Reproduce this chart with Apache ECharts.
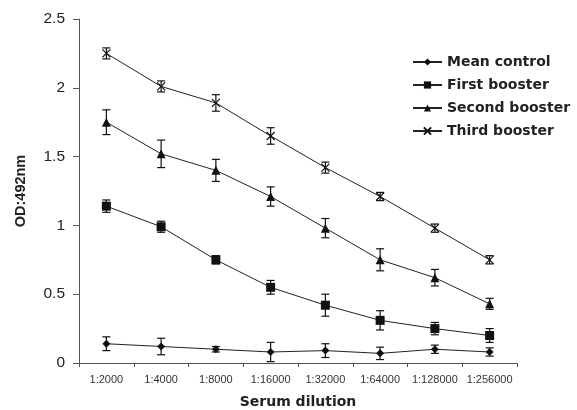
<!DOCTYPE html>
<html><head><meta charset="utf-8">
<script src="https://cdn.jsdelivr.net/npm/echarts@6/dist/echarts.min.js"></script>
<style>html,body{margin:0;padding:0;background:#fff}#c{width:577px;height:410px}</style>
</head><body><div id="c"></div>
<script>
const categories = ['1:2000','1:4000','1:8000','1:16000','1:32000','1:64000','1:128000','1:256000'];
const seriesNames = ['Mean control','First booster','Second booster','Third booster'];
const meanControl = [0.14,0.12,0.10,0.08,0.09,0.07,0.10,0.08];
const meanControlErr = [0.05,0.06,0.02,0.07,0.05,0.045,0.03,0.03];
const firstBooster = [1.14,0.99,0.75,0.55,0.42,0.31,0.25,0.20];
const firstBoosterErr = [0.045,0.04,0.03,0.05,0.08,0.07,0.045,0.05];
const secondBooster = [1.75,1.52,1.40,1.21,0.98,0.75,0.62,0.43];
const secondBoosterErr = [0.09,0.10,0.08,0.07,0.07,0.08,0.06,0.04];
const thirdBooster = [2.25,2.01,1.89,1.65,1.42,1.21,0.98,0.75];
const thirdBoosterErr = [0.04,0.04,0.06,0.06,0.04,0.03,0.03,0.03];
const yTicks = [0,0.5,1,1.5,2,2.5];

const values = [meanControl, firstBooster, secondBooster, thirdBooster];
const errors = [meanControlErr, firstBoosterErr, secondBoosterErr, thirdBoosterErr];
const symbols = [
  'path://M0,-1L1,0L0,1L-1,0Z',
  'rect',
  'triangle',
  'path://M-1,-1L1,1M1,-1L-1,1'
];
const symbolSizes = [8, 9, 9, 8];

const chart = echarts.init(document.getElementById('c'));
const series = [];
values.forEach((vals, i) => {
  series.push({
    type: 'custom',
    silent: true,
    z: 1,
    data: vals.map((v, j) => [j, v - errors[i][j], v + errors[i][j]]),
    renderItem: function (params, api) {
      const x = api.value(0);
      const lo = api.coord([x, api.value(1)]);
      const hi = api.coord([x, api.value(2)]);
      const w = 4;
      const st = {stroke: '#111', lineWidth: 1.2};
      return {type: 'group', children: [
        {type: 'line', shape: {x1: lo[0], y1: lo[1], x2: hi[0], y2: hi[1]}, style: st},
        {type: 'line', shape: {x1: lo[0]-w, y1: lo[1], x2: lo[0]+w, y2: lo[1]}, style: st},
        {type: 'line', shape: {x1: hi[0]-w, y1: hi[1], x2: hi[0]+w, y2: hi[1]}, style: st}
      ]};
    }
  });
  series.push({
    name: seriesNames[i],
    type: 'line',
    z: 2,
    data: vals,
    symbol: symbols[i],
    symbolSize: symbolSizes[i],
    showAllSymbol: true,
    lineStyle: {color: '#222', width: 1},
    itemStyle: i === 3 ? {color: 'none', borderColor: '#111', borderWidth: 1.2} : {color: '#111', borderWidth: 0},
    emphasis: {disabled: true},
    animation: false
  });
});

chart.setOption({
  animation: false,
  backgroundColor: '#fff',
  grid: {left: 79, right: 60, top: 19, bottom: 47, outerBoundsMode: 'none', containLabel: false},
  legend: {
    orient: 'vertical',
    left: 412,
    top: 55,
    padding: 0,
    itemWidth: 29,
    itemHeight: 9,
    itemGap: 9,
    data: seriesNames,
    textStyle: {fontFamily: 'DejaVu Sans', fontWeight: 'bold', fontSize: 14, color: '#222'}
  },
  xAxis: {
    type: 'category',
    data: categories,
    boundaryGap: true,
    name: 'Serum dilution',
    nameLocation: 'middle',
    nameGap: 32,
    nameTextStyle: {fontFamily: 'DejaVu Sans', fontWeight: 'bold', fontSize: 14, color: '#222'},
    axisLine: {lineStyle: {color: '#555', width: 1}},
    axisTick: {show: true, length: 4, lineStyle: {color: '#555'}},
    axisLabel: {fontFamily: 'Liberation Sans, Arial', fontSize: 11, color: '#333', margin: 11, interval: 0},
    splitLine: {show: false}
  },
  yAxis: {
    type: 'value',
    min: 0, max: 2.5, interval: 0.5,
    name: 'OD:492nm',
    nameLocation: 'middle',
    nameGap: 51,
    nameRotate: 90,
    nameTextStyle: {fontFamily: 'Liberation Sans, Arial', fontWeight: 'bold', fontSize: 14.5, color: '#222'},
    axisLine: {show: true, lineStyle: {color: '#555', width: 1}},
    axisTick: {show: true, length: 6, lineStyle: {color: '#555'}},
    axisLabel: {fontFamily: 'Liberation Sans, Arial', fontSize: 15.5, color: '#222', margin: 14,
      formatter: v => yTicks.includes(v) ? String(v) : ''},
    splitLine: {show: false}
  },
  series: series
});
</script></body></html>
